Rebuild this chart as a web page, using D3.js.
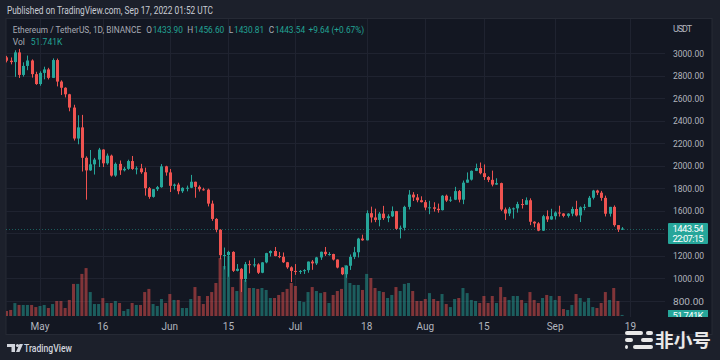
<!DOCTYPE html>
<html><head><meta charset="utf-8">
<script src="https://cdn.jsdelivr.net/npm/d3@7"></script>
<style>html,body{margin:0;padding:0;background:#1c202b;}svg{display:block;}</style>
</head><body><svg id="c" width="720" height="360"></svg>
<script>
// ---- data (ETH/USDT daily, Binance) ----
const firstDay = "2022-04-23";
const opens  = [2964,2934,2922,3008,2808,2888,2936,2815,2727,2826,2857,2782,2940,2749,2694,2636,2518,2243,2342,2072,1960,2014,2056,2145,2023,2091,1914,2018,1961,1974,2043,1973,1978,1944,1802,1725,1793,1811,1996,1942,1823,1834,1775,1805,1806,1859,1814,1792,1789,1665,1529,1432,1207,1208,1236,1068,1086,995,1127,1124,1125,1051,1143,1225,1244,1199,1193,1144,1099,1067,1060,1067,1074,1150,1134,1187,1237,1216,1217,1168,1097,1038,1113,1192,1233,1354,1339,1580,1542,1520,1576,1536,1552,1598,1441,1450,1636,1745,1720,1695,1678,1630,1632,1619,1607,1735,1692,1700,1776,1700,1851,1878,1956,1981,1935,1901,1876,1834,1847,1613,1577,1620,1623,1661,1655,1695,1504,1489,1425,1553,1524,1553,1586,1577,1556,1576,1617,1560,1632,1636,1717,1781,1762,1716,1575,1636,1474,1433.90];
const highs  = [2977,2963,3027,3039,2920,2980,2946,2836,2840,2881,2871,2955,2953,2760,2698,2640,2543,2450,2453,2085,2141,2071,2160,2148,2110,2100,2030,2048,1990,2055,2088,1996,2018,1984,1812,1795,1822,2016,2001,1972,1843,1850,1810,1825,1920,1860,1827,1806,1798,1692,1536,1438,1275,1246,1242,1128,1092,1147,1160,1180,1135,1145,1228,1250,1280,1236,1231,1147,1108,1128,1075,1083,1151,1164,1192,1239,1280,1234,1220,1170,1100,1115,1213,1281,1361,1389,1605,1638,1620,1590,1645,1570,1640,1600,1470,1646,1785,1767,1750,1730,1697,1690,1677,1665,1741,1745,1727,1814,1786,1870,1942,1959,2020,2030,2013,1909,1958,1890,1851,1630,1635,1630,1681,1706,1720,1712,1508,1500,1565,1605,1619,1597,1646,1580,1580,1637,1690,1640,1660,1733,1787,1788,1778,1736,1636,1649,1475,1456.60];
const lows   = [2919,2902,2791,2781,2793,2850,2784,2720,2712,2769,2768,2780,2706,2630,2608,2485,2225,2192,1950,1700,1956,1923,1990,1990,2010,1905,1903,1920,1951,1965,1965,1925,1930,1736,1708,1718,1777,1806,1913,1768,1790,1748,1760,1774,1802,1717,1772,1780,1640,1512,1410,1170,1080,1015,1058,1063,880,970,1045,1100,1040,1047,1135,1195,1197,1180,1138,1086,968,1032,1040,1040,1051,1077,1120,1165,1200,1203,1160,1090,1030,1006,1076,1172,1187,1335,1338,1497,1500,1463,1520,1500,1546,1431,1356,1426,1613,1688,1677,1675,1606,1571,1594,1584,1604,1680,1680,1696,1676,1660,1850,1870,1954,1925,1875,1856,1818,1832,1600,1520,1554,1532,1585,1621,1655,1474,1455,1420,1422,1502,1521,1523,1550,1543,1541,1553,1551,1501,1606,1636,1702,1741,1690,1551,1550,1460,1413,1430.81];
const closes = [2934,2922,3008,2808,2888,2936,2815,2727,2826,2857,2782,2940,2749,2694,2636,2518,2243,2342,2072,1960,2014,2056,2145,2023,2091,1914,2018,1961,1974,2043,1973,1978,1944,1802,1725,1793,1811,1996,1942,1823,1834,1775,1805,1806,1859,1814,1792,1789,1665,1529,1432,1207,1208,1236,1068,1086,995,1127,1124,1125,1051,1143,1225,1244,1199,1193,1144,1099,1067,1060,1067,1074,1150,1134,1187,1237,1216,1217,1168,1097,1038,1113,1192,1233,1354,1339,1580,1542,1520,1576,1536,1552,1598,1441,1450,1636,1745,1720,1695,1678,1630,1632,1619,1607,1735,1692,1700,1776,1700,1851,1878,1956,1981,1935,1901,1876,1834,1847,1613,1577,1620,1623,1661,1655,1695,1504,1489,1425,1553,1524,1553,1586,1577,1556,1576,1617,1560,1632,1636,1717,1781,1762,1716,1575,1636,1474,1433.90,1443.54];
const volumes = [240,290,620,530,530,530,530,430,480,530,385,575,720,720,385,770,1540,1540,2020,2300,1150,575,575,860,625,625,720,625,240,335,625,530,530,1150,1300,575,480,815,625,1055,770,770,385,385,815,1390,960,575,960,1150,1585,2780,2400,2880,1390,1200,2110,1730,1345,1345,1300,1345,1250,865,865,1010,1150,1300,1585,1440,720,670,1150,1390,1200,1100,1150,625,1010,1200,1300,2450,1585,1490,1490,1250,2020,1825,1345,1200,1150,865,1010,1390,1200,1540,1585,1200,720,720,815,1100,815,720,1055,575,430,815,865,1345,1100,770,720,625,960,625,960,625,1390,910,770,960,960,770,625,1150,770,625,865,1010,960,770,960,335,290,530,1055,865,670,865,430,385,625,1150,770,1345,720,51.741];
const priceTicks = [3000,2800,2600,2400,2200,2000,1800,1600,1200,1000,800];
const timeTickDates = ["2022-05-01","2022-05-16","2022-06-01","2022-06-15","2022-07-01","2022-07-18","2022-08-01","2022-08-15","2022-09-01","2022-09-19"];
const timeTickLabels = ["May","16","Jun","15","Jul","18","Aug","15","Sep","19"];

// ---- build rows ----
const parse = d3.utcParse("%Y-%m-%d");
const d0 = parse(firstDay);
const rows = opens.map((o,i)=>({date:d3.utcDay.offset(d0,i),o,h:highs[i],l:lows[i],c:closes[i],v:volumes[i]}));

const UP="#26a69a", DOWN="#ef5350";
const svg = d3.select("#c");
const paneL=6, paneR=665, paneT=19, paneB=317;

const x = d3.scaleUtc().domain([parse("2022-05-01"), parse("2022-09-17")]).range([40, 622.1]);
const y = d3.scaleLinear().domain([800,3000]).range([301,53.3]);
const yv = d3.scaleLinear().domain([0,3000]).range([316,253.5]);

svg.append("rect").attr("width",720).attr("height",360).attr("fill","#1c202b");
svg.append("rect").attr("x",6).attr("y",18.5).attr("width",706).attr("height",316)
  .attr("fill","#131722").attr("stroke","#262a35").attr("stroke-width",1);

const defs = svg.append("defs");
defs.append("clipPath").attr("id","pane").append("rect")
  .attr("x",paneL).attr("y",paneT).attr("width",paneR-paneL).attr("height",paneB-paneT);
defs.append("clipPath").attr("id","axisclip").append("rect")
  .attr("x",665).attr("y",19).attr("width",47).attr("height",298);

// grid
const grid = svg.append("g").attr("stroke","#1f2330").attr("stroke-width",1);
priceTicks.concat([1400]).forEach(p=>{
  grid.append("line").attr("x1",paneL).attr("x2",paneR).attr("y1",Math.round(y(p))+0.5).attr("y2",Math.round(y(p))+0.5);
});
timeTickDates.forEach(d=>{
  const xx=Math.round(x(parse(d)))+0.5;
  grid.append("line").attr("x1",xx).attr("x2",xx).attr("y1",paneT).attr("y2",paneB);
});

const g = svg.append("g").attr("clip-path","url(#pane)");
// volume
g.selectAll("rect.vol").data(rows).enter().append("rect").attr("class","vol")
  .attr("x",d=>x(d.date)-1.5).attr("width",3)
  .attr("y",d=>yv(d.v)).attr("height",d=>Math.max(0.6,yv(0)-yv(d.v)))
  .attr("fill",d=>d.c>=d.o?UP:DOWN).attr("fill-opacity",0.5);
// wicks
g.selectAll("line.wick").data(rows).enter().append("line")
  .attr("x1",d=>Math.round(x(d.date))+0.5).attr("x2",d=>Math.round(x(d.date))+0.5)
  .attr("y1",d=>y(d.h)).attr("y2",d=>y(d.l))
  .attr("stroke",d=>d.c>=d.o?UP:DOWN).attr("stroke-width",1);
// bodies
g.selectAll("rect.body").data(rows).enter().append("rect")
  .attr("x",d=>Math.round(x(d.date))-1).attr("width",3)
  .attr("y",d=>y(Math.max(d.o,d.c))).attr("height",d=>Math.max(1,Math.abs(y(d.o)-y(d.c))))
  .attr("fill",d=>d.c>=d.o?UP:DOWN);

// last price line
const last = rows[rows.length-1];
svg.append("line").attr("x1",paneL).attr("x2",paneR)
  .attr("y1",Math.round(y(last.c))+0.5).attr("y2",Math.round(y(last.c))+0.5)
  .attr("stroke",UP).attr("stroke-dasharray","1,2").attr("stroke-opacity",0.5);

const FONT="Roboto, 'Open Sans', sans-serif";
// price axis
const ax = svg.append("g").attr("font-family",FONT).attr("font-size",9.5).attr("fill","#b2b5be");
ax.append("text").attr("x",673).attr("y",31.5).text("USDT").attr("textLength",19).attr("font-size",9);
priceTicks.forEach(p=>{
  ax.append("text").attr("x",673).attr("y",y(p)+3.5).text(p.toFixed(2))
    .attr("textLength",31).attr("lengthAdjust","spacingAndGlyphs");
});
// last price box
svg.append("rect").attr("x",668).attr("y",223).attr("width",40).attr("height",21).attr("fill",UP).attr("rx",1);
svg.append("text").attr("x",688).attr("y",232).attr("text-anchor","middle").attr("font-family",FONT)
  .attr("font-size",9.5).attr("fill","#fff").text(last.c.toFixed(2)).attr("textLength",31);
svg.append("text").attr("x",688).attr("y",242).attr("text-anchor","middle").attr("font-family",FONT)
  .attr("font-size",9.5).attr("fill","#fff").text("22:07:15").attr("textLength",31);
// volume box (clipped)
const vb = svg.append("g").attr("clip-path","url(#axisclip)");
vb.append("rect").attr("x",668).attr("y",310).attr("width",40).attr("height",12).attr("fill",UP);
vb.append("text").attr("x",688).attr("y",319).attr("text-anchor","middle").attr("font-family",FONT)
  .attr("font-size",9.5).attr("fill","#fff").text(d3.format(".3f")(last.v)+"K").attr("textLength",31);

// time axis
const tx = svg.append("g").attr("font-family",FONT).attr("font-size",10).attr("fill","#b2b5be").attr("text-anchor","middle");
timeTickDates.forEach((d,i)=>{
  tx.append("text").attr("x",x(parse(d))).attr("y",329.5).text(timeTickLabels[i]);
});

// header
svg.append("text").attr("x",7).attr("y",13.5).attr("font-family",FONT).attr("font-size",10).attr("fill","#c9ccd4")
  .text("Published on TradingView.com, Sep 17, 2022 01:52 UTC")
  .attr("textLength",206).attr("lengthAdjust","spacingAndGlyphs");
const GR="#a8abb4", TL="#22a394";
function flow(parts, x0, yy, size){
  let cx = x0;
  parts.forEach(([txt,col,gap])=>{
    const t = svg.append("text").attr("x",cx).attr("y",yy).attr("font-family",FONT)
      .attr("font-size",size).attr("fill",col).text(txt);
    cx += t.node().getComputedTextLength() + gap;
  });
}
const chg = last.c-last.o;
flow([
  ["Ethereum / TetherUS, 1D, BINANCE",GR,5],
  ["O",GR,0.8],[last.o.toFixed(2),TL,4.5],
  ["H",GR,0.8],[last.h.toFixed(2),TL,4.5],
  ["L",GR,0.8],[last.l.toFixed(2),TL,4.5],
  ["C",GR,0.8],[last.c.toFixed(2),TL,3.5],
  ["+"+chg.toFixed(2)+" (+"+(chg/last.o*100).toFixed(2)+"%)",TL,0]
], 12.7, 32.5, 8.3);
flow([["Vol",GR,6],[d3.format(".3f")(last.v)+"K",TL,0]], 12.7, 44.5, 8.5);

// footer logo
const ft = svg.append("g").attr("fill","#d1d4dc");
ft.append("path").attr("d","M7,344 h8 v8 h-3.5 v-5 h-4.5 z");
ft.append("circle").attr("cx",17.5).attr("cy",345.5).attr("r",1.6);
ft.append("path").attr("d","M19.5,344 h3.5 l-3.5,8 h-3.5 z");
ft.append("text").attr("x",24).attr("y",352).attr("font-family",FONT).attr("font-size",10.5).attr("font-weight",500)
  .text("TradingView").attr("textLength",48).attr("lengthAdjust","spacingAndGlyphs");

// watermark
const wm = svg.append("g").attr("fill","#e8e8e8");
[[625,331,18],[646,331,7],[625,338,8],[641,338,12],[625,345,3],[633,345,20]].forEach(([a,b,w])=>{
  wm.append("rect").attr("x",a).attr("y",b).attr("width",w).attr("height",4).attr("rx",2);
});
wm.append("text").attr("x",655).attr("y",347).attr("font-family","'Noto Sans CJK SC', sans-serif").attr("font-weight",700)
  .attr("font-size",18).text("非小号").attr("textLength",56).attr("lengthAdjust","spacingAndGlyphs");
</script></body></html>
